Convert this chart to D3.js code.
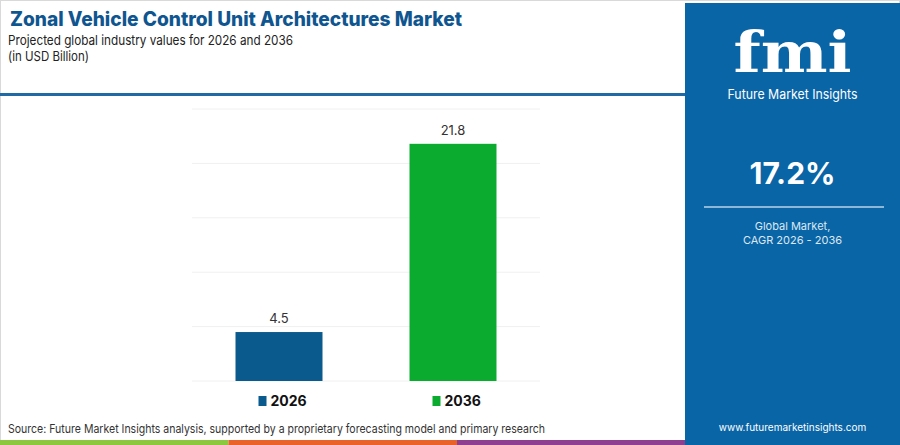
<!DOCTYPE html>
<html>
<head>
<meta charset="utf-8">
<script src="https://cdn.jsdelivr.net/npm/d3@7"></script>
<style>
  body { margin: 0; background: #fff; }
  svg { display: block; font-family: Inter, "Open Sans", sans-serif; }
</style>
</head>
<body>
<div id="chart"></div>
<script>
const years = ['2026', '2036'];
const values = [4.5, 21.8];
const barColors = ['#0b5a8e', '#0aab2f'];
const gridTicks = [0, 5, 10, 15, 20, 25];
const cagrText = '17.2%';
const stripeColors = ['#8dc63f', '#e8622a', '#8e3f8f'];

const W = 900, H = 445;
const svg = d3.select('#chart').append('svg')
  .attr('width', W).attr('height', H);

// frame
svg.append('rect').attr('x', 0.5).attr('y', 0.5)
  .attr('width', W - 1).attr('height', H - 1)
  .attr('fill', '#fff').attr('stroke', '#d9d9d9');

// titles
svg.append('text').attr('x', 10).attr('y', 26)
  .attr('font-size', 20).attr('font-weight', 800)
  .attr('fill', '#0f5690')
  .attr('textLength', 452).attr('lengthAdjust', 'spacingAndGlyphs')
  .text('Zonal Vehicle Control Unit Architectures Market');
svg.append('text').attr('x', 8).attr('y', 45)
  .attr('font-size', 13.5).attr('fill', '#222')
  .attr('textLength', 285).attr('lengthAdjust', 'spacingAndGlyphs')
  .text('Projected global industry values for 2026 and 2036');
svg.append('text').attr('x', 8).attr('y', 61)
  .attr('font-size', 13.5).attr('fill', '#222')
  .attr('textLength', 81).attr('lengthAdjust', 'spacingAndGlyphs')
  .text('(in USD Billion)');

svg.append('rect').attr('x', 0).attr('y', 93)
  .attr('width', 690).attr('height', 3).attr('fill', '#1f6aa5');

// chart
const x = d3.scaleBand().domain(years).range([192, 540])
  .paddingInner(0.5).paddingOuter(0.25);
const y = d3.scaleLinear().domain([0, 25]).range([381, 109]);

svg.append('g').selectAll('line').data(gridTicks).join('line')
  .attr('x1', 192).attr('x2', 540)
  .attr('y1', d => y(d)).attr('y2', d => y(d))
  .attr('stroke', '#f0f0f0').attr('stroke-width', 1);

svg.append('g').selectAll('rect').data(years).join('rect')
  .attr('x', d => x(d)).attr('width', x.bandwidth())
  .attr('y', (d, i) => y(values[i]))
  .attr('height', (d, i) => y(0) - y(values[i]))
  .attr('fill', (d, i) => barColors[i]);

svg.append('g').selectAll('text').data(years).join('text')
  .attr('x', d => x(d) + x.bandwidth() / 2)
  .attr('y', (d, i) => y(values[i]) - 9)
  .attr('text-anchor', 'middle').attr('font-size', 13)
  .attr('fill', '#333')
  .text((d, i) => values[i]);

// legend
const legend = svg.append('g').selectAll('g').data(years).join('g')
  .attr('transform', (d, i) => `translate(${x(d) + 23},0)`);
legend.append('rect').attr('x', 0).attr('y', 396)
  .attr('width', 8).attr('height', 10)
  .attr('fill', (d, i) => barColors[i]);
legend.append('text').attr('x', 12).attr('y', 406)
  .attr('font-size', 14).attr('font-weight', 700).attr('fill', '#111')
  .text(d => d);

// source
svg.append('text').attr('x', 8).attr('y', 433)
  .attr('font-size', 12).attr('fill', '#333')
  .attr('textLength', 537).attr('lengthAdjust', 'spacingAndGlyphs')
  .text('Source: Future Market Insights analysis, supported by a proprietary forecasting model and primary research');

svg.append('g').selectAll('rect').data(stripeColors).join('rect')
  .attr('x', (d, i) => i * 228.5).attr('y', 440)
  .attr('width', 228.5).attr('height', 5)
  .attr('fill', d => d);

// right panel
const px = 685, pw = W - px, cx = px + pw / 2;
svg.append('rect').attr('x', px).attr('y', 3)
  .attr('width', pw).attr('height', H - 3).attr('fill', '#0a65a6');

svg.append('text').attr('x', cx).attr('y', 72)
  .attr('text-anchor', 'middle').attr('font-size', 56)
  .attr('font-weight', 700).attr('fill', '#fff')
  .attr('font-family', '"DejaVu Serif", serif')
  .attr('textLength', 118).attr('lengthAdjust', 'spacingAndGlyphs')
  .text('fmi');
svg.append('text').attr('x', cx).attr('y', 99)
  .attr('text-anchor', 'middle').attr('font-size', 13)
  .attr('fill', '#fff')
  .attr('textLength', 130).attr('lengthAdjust', 'spacingAndGlyphs')
  .text('Future Market Insights');

svg.append('text').attr('x', cx).attr('y', 184)
  .attr('text-anchor', 'middle').attr('font-size', 30)
  .attr('font-weight', 700).attr('fill', '#fff')
  .text(cagrText);
svg.append('line').attr('x1', 704).attr('x2', 884)
  .attr('y1', 207).attr('y2', 207)
  .attr('stroke', '#b9d3ea').attr('stroke-width', 1.5);
svg.append('text').attr('x', cx).attr('y', 230)
  .attr('text-anchor', 'middle').attr('font-size', 11)
  .attr('fill', '#dbe8f4').text('Global Market,');
svg.append('text').attr('x', cx).attr('y', 244)
  .attr('text-anchor', 'middle').attr('font-size', 11)
  .attr('fill', '#dbe8f4').text('CAGR 2026 - 2036');

svg.append('text').attr('x', cx).attr('y', 431)
  .attr('text-anchor', 'middle').attr('font-size', 10)
  .attr('fill', '#fff').text('www.futuremarketinsights.com');
</script>
</body>
</html>
